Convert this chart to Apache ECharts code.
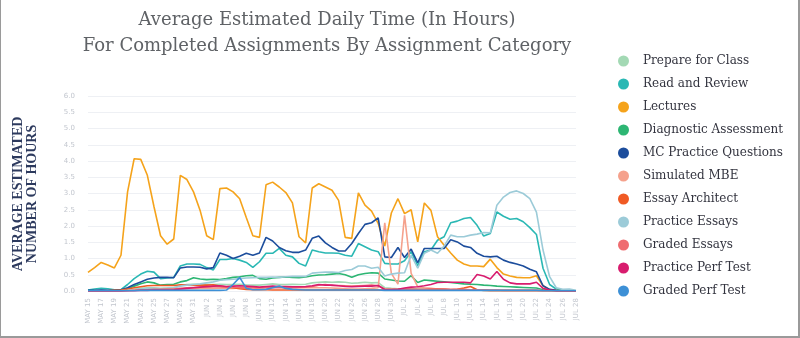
<!DOCTYPE html>
<html>
<head>
<meta charset="utf-8">
<script src="https://cdn.jsdelivr.net/npm/echarts@6/dist/echarts.min.js"></script>
<style>
html,body{margin:0;padding:0;background:#fff;}
#wrap{position:relative;width:800px;height:338px;}
#chart{width:800px;height:338px;}
#frame{position:absolute;left:0;top:0;width:800px;height:338px;box-sizing:border-box;border-left:1px solid #9a9a9a;border-right:2px solid #9a9a9a;border-bottom:2px solid #9a9a9a;pointer-events:none;}
</style>
</head>
<body>
<div id="wrap"><div id="chart"></div><div id="frame"></div></div>
<script>
const categories = ['MAY 15','MAY 16','MAY 17','MAY 18','MAY 19','MAY 20','MAY 21','MAY 22','MAY 23','MAY 24','MAY 25','MAY 26','MAY 27','MAY 28','MAY 29','MAY 30','MAY 31',
'JUN 1','JUN 2','JUN 3','JUN 4','JUN 5','JUN 6','JUN 7','JUN 8','JUN 9','JUN 10','JUN 11','JUN 12','JUN 13','JUN 14','JUN 15','JUN 16','JUN 17','JUN 18','JUN 19','JUN 20','JUN 21','JUN 22','JUN 23','JUN 24','JUN 25','JUN 26','JUN 27','JUN 28','JUN 29','JUN 30',
'JUL 1','JUL 2','JUL 3','JUL 4','JUL 5','JUL 6','JUL 7','JUL 8','JUL 9','JUL 10','JUL 11','JUL 12','JUL 13','JUL 14','JUL 15','JUL 16','JUL 17','JUL 18','JUL 19','JUL 20','JUL 21','JUL 22','JUL 23','JUL 24','JUL 25','JUL 26','JUL 27','JUL 28'];

const prepareForClass = [0.01,0.01,0.01,0.01,0.01,0.01,0.03,0.05,0.08,0.1,0.1,0.08,0.09,0.1,0.17,0.2,0.21,0.2,0.2,0.2,0.21,0.2,0.2,0.21,0.19,0.18,0.18,0.2,0.22,0.2,0.2,0.21,0.2,0.21,0.25,0.27,0.28,0.27,0.28,0.27,0.24,0.25,0.27,0.25,0.26,0.1,0.08,0.07,0.07,0.09,0.06,0.06,0.05,0.05,0.04,0.03,0.03,0.03,0.03,0.03,0.02,0.02,0.02,0.02,0.02,0.02,0.02,0.02,0.02,0.01,0.01,0.01,0.01,0.01,0.01];
const readAndReview = [0.03,0.06,0.08,0.07,0.04,0.04,0.2,0.38,0.52,0.61,0.58,0.38,0.4,0.42,0.77,0.83,0.83,0.82,0.72,0.65,0.97,0.97,1.0,0.95,0.88,0.73,0.9,1.16,1.16,1.31,1.1,1.05,0.85,0.77,1.26,1.21,1.17,1.17,1.16,1.1,1.07,1.46,1.36,1.26,1.21,0.85,0.83,0.83,0.93,1.21,0.78,1.21,1.26,1.56,1.67,2.1,2.15,2.23,2.26,2.02,1.69,1.77,2.43,2.3,2.21,2.23,2.13,1.95,1.74,0.7,0.2,0.06,0.03,0.02,0.01];
const lectures = [0.57,0.72,0.88,0.8,0.71,1.1,3.05,4.07,4.05,3.56,2.6,1.7,1.44,1.6,3.56,3.43,3.05,2.48,1.7,1.58,3.15,3.17,3.05,2.84,2.26,1.7,1.65,3.27,3.35,3.2,3.03,2.71,1.67,1.48,3.17,3.3,3.2,3.1,2.79,1.65,1.62,3.02,2.64,2.46,2.08,1.38,2.4,2.84,2.38,2.5,1.51,2.71,2.48,1.67,1.41,1.17,0.95,0.83,0.77,0.77,0.75,0.98,0.72,0.52,0.46,0.42,0.41,0.41,0.47,0.16,0.04,0.02,0.01,0.01,0.01];
const diagnosticAssessment = [0.01,0.01,0.01,0.01,0.01,0.02,0.08,0.15,0.22,0.28,0.25,0.18,0.2,0.21,0.28,0.32,0.41,0.37,0.35,0.36,0.35,0.38,0.42,0.44,0.47,0.48,0.38,0.36,0.4,0.42,0.43,0.42,0.41,0.43,0.47,0.49,0.5,0.52,0.54,0.5,0.42,0.5,0.54,0.56,0.55,0.37,0.34,0.31,0.3,0.47,0.26,0.34,0.32,0.3,0.28,0.26,0.24,0.22,0.21,0.2,0.18,0.17,0.15,0.14,0.13,0.12,0.11,0.1,0.09,0.04,0.02,0.01,0.01,0.01,0.01];
const mcPracticeQuestions = [0.02,0.02,0.03,0.02,0.02,0.04,0.1,0.2,0.28,0.36,0.4,0.42,0.42,0.41,0.71,0.74,0.74,0.73,0.68,0.72,1.17,1.1,1.0,1.07,1.16,1.1,1.17,1.65,1.54,1.34,1.24,1.19,1.19,1.26,1.62,1.69,1.48,1.34,1.23,1.23,1.46,1.77,2.05,2.1,2.25,1.05,1.03,1.34,1.03,1.29,0.87,1.31,1.31,1.31,1.31,1.58,1.51,1.38,1.34,1.16,1.07,1.05,1.07,0.95,0.88,0.83,0.77,0.67,0.59,0.16,0.05,0.02,0.01,0.01,0.01];
const simulatedMBE = [0,0,0,0,0,0.01,0.02,0.03,0.04,0.05,0.05,0.05,0.05,0.06,0.06,0.07,0.07,0.08,0.08,0.08,0.09,0.08,0.08,0.09,0.1,0.09,0.08,0.09,0.1,0.1,0.09,0.1,0.1,0.1,0.11,0.1,0.1,0.09,0.08,0.07,0.06,0.06,0.07,0.08,0.1,2.1,0.54,0.21,2.33,0.54,0.13,0.1,0.08,0.06,0.05,0.04,0.04,0.04,0.03,0.03,0.03,0.02,0.02,0.02,0.02,0.02,0.02,0.02,0.02,0.01,0.01,0.01,0.01,0.01,0.01];
const essayArchitect = [0.01,0.01,0.01,0.01,0.02,0.03,0.06,0.1,0.13,0.16,0.17,0.17,0.17,0.17,0.19,0.19,0.18,0.18,0.18,0.19,0.15,0.12,0.1,0.07,0.05,0.04,0.04,0.04,0.03,0.03,0.03,0.03,0.03,0.03,0.03,0.03,0.03,0.03,0.03,0.03,0.03,0.03,0.03,0.03,0.03,0.03,0.03,0.03,0.03,0.03,0.03,0.04,0.05,0.06,0.05,0.04,0.05,0.09,0.14,0.04,0.02,0.01,0.01,0.01,0.01,0.01,0.01,0.01,0.01,0.01,0.01,0.01,0.01,0.01,0.01];
const practiceEssays = [0.01,0.01,0.01,0.01,0.01,0.01,0.02,0.04,0.06,0.08,0.08,0.07,0.08,0.1,0.15,0.18,0.2,0.22,0.25,0.28,0.33,0.35,0.36,0.38,0.4,0.41,0.42,0.42,0.43,0.42,0.44,0.45,0.45,0.45,0.55,0.57,0.58,0.58,0.57,0.63,0.66,0.77,0.77,0.7,0.73,0.46,0.52,0.55,0.56,1.1,0.7,1.16,1.26,1.16,1.38,1.72,1.67,1.67,1.72,1.75,1.8,1.79,2.64,2.89,3.03,3.08,3.0,2.84,2.43,1.26,0.44,0.1,0.05,0.06,0.02];
const gradedEssays = [0,0,0,0,0,0,0.01,0.02,0.03,0.04,0.05,0.05,0.06,0.06,0.08,0.1,0.11,0.12,0.12,0.13,0.13,0.12,0.12,0.11,0.1,0.11,0.1,0.12,0.11,0.12,0.11,0.1,0.11,0.12,0.14,0.18,0.2,0.17,0.17,0.16,0.15,0.16,0.17,0.18,0.16,0.06,0.06,0.05,0.06,0.06,0.05,0.05,0.06,0.06,0.06,0.05,0.05,0.05,0.04,0.04,0.04,0.03,0.03,0.02,0.02,0.02,0.02,0.02,0.02,0.01,0.01,0.01,0.01,0.01,0.01];
const practicePerfTest = [0,0,0,0,0,0,0.01,0.01,0.02,0.02,0.03,0.03,0.03,0.04,0.06,0.08,0.1,0.12,0.14,0.15,0.16,0.14,0.15,0.16,0.15,0.14,0.12,0.14,0.15,0.14,0.14,0.13,0.13,0.14,0.16,0.2,0.18,0.18,0.16,0.14,0.13,0.14,0.15,0.15,0.17,0.04,0.04,0.05,0.09,0.12,0.13,0.16,0.2,0.26,0.27,0.27,0.27,0.27,0.25,0.51,0.46,0.37,0.6,0.36,0.25,0.22,0.22,0.22,0.27,0.08,0.03,0.01,0.01,0.01,0.01];
const gradedPerfTest = [0.01,0.01,0.01,0.01,0.01,0.01,0.01,0.01,0.02,0.02,0.02,0.02,0.02,0.02,0.02,0.02,0.02,0.02,0.02,0.02,0.02,0.03,0.2,0.42,0.08,0.04,0.04,0.05,0.1,0.15,0.08,0.05,0.04,0.03,0.03,0.03,0.03,0.03,0.03,0.03,0.03,0.03,0.03,0.03,0.03,0.02,0.02,0.02,0.02,0.02,0.02,0.02,0.02,0.02,0.02,0.02,0.02,0.02,0.02,0.02,0.02,0.02,0.02,0.02,0.02,0.02,0.02,0.02,0.02,0.01,0.01,0.01,0.01,0.01,0.01];

const seriesNames = ['Prepare for Class','Read and Review','Lectures','Diagnostic Assessment','MC Practice Questions','Simulated MBE','Essay Architect','Practice Essays','Graded Essays','Practice Perf Test','Graded Perf Test'];
const seriesData = [prepareForClass, readAndReview, lectures, diagnosticAssessment, mcPracticeQuestions, simulatedMBE, essayArchitect, practiceEssays, gradedEssays, practicePerfTest, gradedPerfTest];
const colors = ['#a3d9b4','#2ab8b4','#f5a31b','#2db673','#1c4d9c','#f5a18c','#f05a24','#9ccbd8','#ef6c70','#d81c6e','#3d90d6'];

const chart = echarts.init(document.getElementById('chart'), null, {renderer:'canvas'});
chart.setOption({
  animation: false,
  color: colors,
  graphic: [
    {type:'text', x:327, y:20, style:{text:'Average Estimated Daily Time (In Hours)', fill:'#5f6266', font:'18px "DejaVu Serif"', textAlign:'center', textVerticalAlign:'middle'}},
    {type:'text', x:327, y:46, style:{text:'For Completed Assignments By Assignment Category', fill:'#5f6266', font:'18px "DejaVu Serif"', textAlign:'center', textVerticalAlign:'middle'}},
    {type:'text', x:25, y:194, rotation:Math.PI/2, style:{text:'AVERAGE ESTIMATED\nNUMBER OF HOURS', fill:'#2d3a5e', font:'bold 14px "Liberation Serif"', lineHeight:14, textAlign:'center', textVerticalAlign:'middle'}}
  ],
  legend: {
    orient:'vertical', left:613, top:49, icon:'circle', itemWidth:11, itemHeight:11, itemGap:9,
    data: seriesNames,
    textStyle:{fontFamily:'DejaVu Serif', fontSize:12, color:'#33343f', lineHeight:14, padding:[0,0,0,9]}
  },
  grid: {left:88, right:224, top:96, bottom:47},
  xAxis: {
    type:'category', data:categories, boundaryGap:false,
    axisLine:{show:false}, axisTick:{show:false},
    axisLabel:{rotate:90, interval:1, fontSize:7, color:'#c2c6ce', margin:7, fontFamily:'DejaVu Sans'}
  },
  yAxis: {
    type:'value', min:0, max:6, interval:0.5,
    axisLine:{show:false}, axisTick:{show:false},
    axisLabel:{fontSize:7, color:'#c2c6ce', margin:13, fontFamily:'DejaVu Sans', formatter:(v)=>v.toFixed(1)},
    splitLine:{lineStyle:{color:'#eef0f4', width:1}}
  },
  series: seriesNames.map((n,k)=>({
    name:n, type:'line', data:seriesData[k], showSymbol:false, symbol:'none',
    lineStyle:{width:1.6, color:colors[k]}, itemStyle:{color:colors[k]}
  }))
});
</script>
</body>
</html>
